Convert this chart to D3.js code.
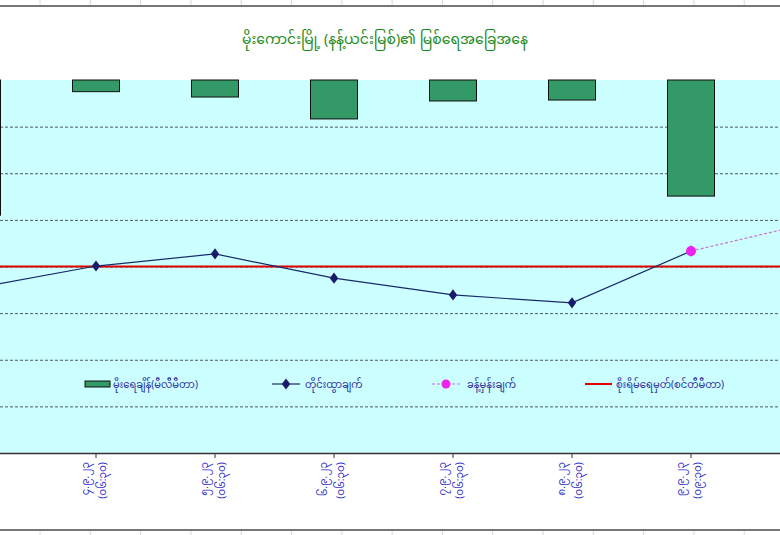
<!DOCTYPE html>
<html>
<head>
<meta charset="utf-8">
<script src="https://cdn.jsdelivr.net/npm/d3@7"></script>
<style>
  html, body { margin: 0; padding: 0; background: #fff; }
  svg { display: block; }
  text { font-family: "Noto Sans Myanmar", "Myanmar Text", "Padauk", "Noto Sans", "DejaVu Sans", sans-serif; }
</style>
</head>
<body>
<svg id="chart" width="780" height="535"></svg>
<script>
// ---------------- data ----------------
const title = "မိုးကောင်းမြို့ (နန့်ယင်းမြစ်)၏ မြစ်ရေအခြေအနေ";
const dates = ["၃.၉.၂၃", "၄.၉.၂၃", "၅.၉.၂၃", "၆.၉.၂၃", "၇.၉.၂၃", "၈.၉.၂၃", "၉.၉.၂၃", "၁၀.၉.၂၃"];
const times = ["(၀၆:၃၀)", "(၀၆:၃၀)", "(၀၆:၃၀)", "(၀၆:၃၀)", "(၀၆:၃၀)", "(၀၆:၃၀)", "(၀၉:၃၀)", "(၀၆:၃၀)"];
const rainfall = [58, 5, 7.3, 16.7, 9, 8.6, 49.8, null];          // mm (hanging bars)
const waterLevel = [2154, 2201, 2227, 2175, 2139, 2122, 2233, null]; // cm observed
const forecast = [null, null, null, null, null, null, 2233, 2293];  // cm forecast
const dangerLevel = 2200;                                           // cm
const levelTicks = [1800, 1900, 2000, 2100, 2200, 2300, 2400, 2500, 2600];
const legendLabels = ["မိုးရေချိန်(မီလီမီတာ)", "တိုင်းထွာချက်", "ခန့်မှန်းချက်", "စိုးရိမ်ရေမှတ်(စင်တီမီတာ)"];

// ---------------- layout ----------------
const svg = d3.select("#chart");
const W = 780, H = 535;
const plotTop = 80, plotBottom = 453, plotLeft = 0, plotRight = 780;

// spreadsheet cell lines (background decoration)
const cellXs = d3.range(40, 780, 50.3);
svg.append("g").selectAll("line.top").data(cellXs).join("line")
  .attr("x1", d => d).attr("x2", d => d).attr("y1", 0).attr("y2", 5)
  .attr("stroke", "#d8d8d8");
svg.append("g").selectAll("line.bot").data(cellXs).join("line")
  .attr("x1", d => d).attr("x2", d => d).attr("y1", 531).attr("y2", 535)
  .attr("stroke", "#d8d8d8");
svg.append("line").attr("x1", 0).attr("x2", W).attr("y1", 6).attr("y2", 6)
  .attr("stroke", "#777").attr("stroke-width", 2);
svg.append("line").attr("x1", 0).attr("x2", W).attr("y1", 530).attr("y2", 530)
  .attr("stroke", "#777").attr("stroke-width", 2);

// scales
const x = d3.scaleBand().domain(dates).range([-82.5, 869.5]).padding(0);
const cx = d => x(d) + x.bandwidth() / 2;
const barW = x.bandwidth() * 0.395;
const yLevel = d3.scaleLinear().domain([1800, 2600]).range([plotBottom, plotTop]);
const yRain = d3.scaleLinear().domain([0, 160]).range([plotTop, plotBottom]);

// plot background
svg.append("rect").attr("x", plotLeft).attr("y", plotTop)
  .attr("width", plotRight - plotLeft).attr("height", plotBottom - plotTop)
  .attr("fill", "#ccffff");

// gridlines
svg.append("g").selectAll("line").data(levelTicks.slice(1, -1)).join("line")
  .attr("x1", plotLeft).attr("x2", plotRight)
  .attr("y1", d => yLevel(d) + 0.5).attr("y2", d => yLevel(d) + 0.5)
  .attr("stroke", "#4a5a5a").attr("stroke-width", 1).attr("stroke-dasharray", "3,2");

// bars (hanging from the top)
svg.append("g").selectAll("rect").data(dates.map((d, i) => ({ d, v: rainfall[i] })).filter(o => o.v != null))
  .join("rect")
  .attr("x", o => cx(o.d) - barW / 2)
  .attr("y", yRain(0))
  .attr("width", barW)
  .attr("height", o => yRain(o.v) - yRain(0))
  .attr("fill", "#339966").attr("stroke", "#111").attr("stroke-width", 1);

// danger line
svg.append("line").attr("x1", plotLeft).attr("x2", plotRight)
  .attr("y1", yLevel(dangerLevel)).attr("y2", yLevel(dangerLevel))
  .attr("stroke", "#e00000").attr("stroke-width", 2);

// forecast line
const fData = dates.map((d, i) => ({ d, v: forecast[i] })).filter(o => o.v != null);
svg.append("path").datum(fData)
  .attr("d", d3.line().x(o => cx(o.d)).y(o => yLevel(o.v)))
  .attr("fill", "none").attr("stroke", "#d070d0").attr("stroke-width", 1.2)
  .attr("stroke-dasharray", "3,2");

// observed line
const wData = dates.map((d, i) => ({ d, v: waterLevel[i] })).filter(o => o.v != null);
svg.append("path").datum(wData)
  .attr("d", d3.line().x(o => cx(o.d)).y(o => yLevel(o.v)))
  .attr("fill", "none").attr("stroke", "#1a2a6a").attr("stroke-width", 1.2);
const diamond = d3.symbol().type(d3.symbolDiamond).size(36);
svg.append("g").selectAll("path").data(wData).join("path")
  .attr("transform", o => `translate(${cx(o.d)},${yLevel(o.v)}) scale(1.3,1)`)
  .attr("d", diamond).attr("fill", "#1a1a6a");

// forecast markers (first point only visible inside)
svg.append("g").selectAll("circle").data(fData.slice(0, 1)).join("circle")
  .attr("cx", o => cx(o.d)).attr("cy", o => yLevel(o.v)).attr("r", 5)
  .attr("fill", "#ee22ee");

// x axis
const xAxis = d3.axisBottom(x).tickSize(5).tickFormat("");
const gx = svg.append("g").attr("transform", `translate(0,${plotBottom})`).call(xAxis);
gx.select(".domain").attr("stroke", "#333").attr("stroke-width", 1.5);
gx.selectAll(".tick line").attr("stroke", "#333");

// tick labels (rotated, two lines) — only those inside the visible frame
const visible = dates.filter(d => cx(d) > 20 && cx(d) < W - 20);
const lbl = svg.append("g").selectAll("g").data(visible).join("g")
  .attr("transform", d => `translate(${cx(d)},462)`);
lbl.append("text")
  .attr("transform", "translate(-11,0) rotate(-90)")
  .attr("text-anchor", "end").attr("dy", "0.35em")
  .attr("font-size", 10.5).attr("fill", "#3333cc")
  .text(d => d);
lbl.append("text")
  .attr("transform", "translate(6,0) rotate(-90)")
  .attr("text-anchor", "end").attr("dy", "0.35em")
  .attr("font-size", 10.5).attr("fill", "#3333cc")
  .text(d => times[dates.indexOf(d)]);

// title
svg.append("text").attr("x", 385).attr("y", 44).attr("text-anchor", "middle")
  .attr("font-size", 14).attr("fill", "#238b23")
  .text(title);

// legend
const ly = 384;
const lg = svg.append("g");
lg.append("rect").attr("x", 85).attr("y", ly - 3).attr("width", 25).attr("height", 6)
  .attr("fill", "#339966").attr("stroke", "#111");
lg.append("line").attr("x1", 272).attr("x2", 300).attr("y1", ly).attr("y2", ly)
  .attr("stroke", "#1a2a6a").attr("stroke-width", 1.2);
lg.append("path").attr("transform", `translate(286,${ly}) scale(1.3,1)`).attr("d", diamond).attr("fill", "#1a1a6a");
lg.append("line").attr("x1", 432).attr("x2", 460).attr("y1", ly).attr("y2", ly)
  .attr("stroke", "#d070d0").attr("stroke-width", 1.2).attr("stroke-dasharray", "3,2");
lg.append("circle").attr("cx", 446).attr("cy", ly).attr("r", 4.5).attr("fill", "#ee22ee");
lg.append("line").attr("x1", 585).attr("x2", 612).attr("y1", ly).attr("y2", ly)
  .attr("stroke", "#e00000").attr("stroke-width", 2);
const lx = [113, 305, 467, 616];
lg.selectAll("text").data(legendLabels).join("text")
  .attr("x", (d, i) => lx[i]).attr("y", ly).attr("dy", "0.35em")
  .attr("font-size", 10).attr("fill", "#2a2aa0")
  .text(d => d);
</script>
</body>
</html>
